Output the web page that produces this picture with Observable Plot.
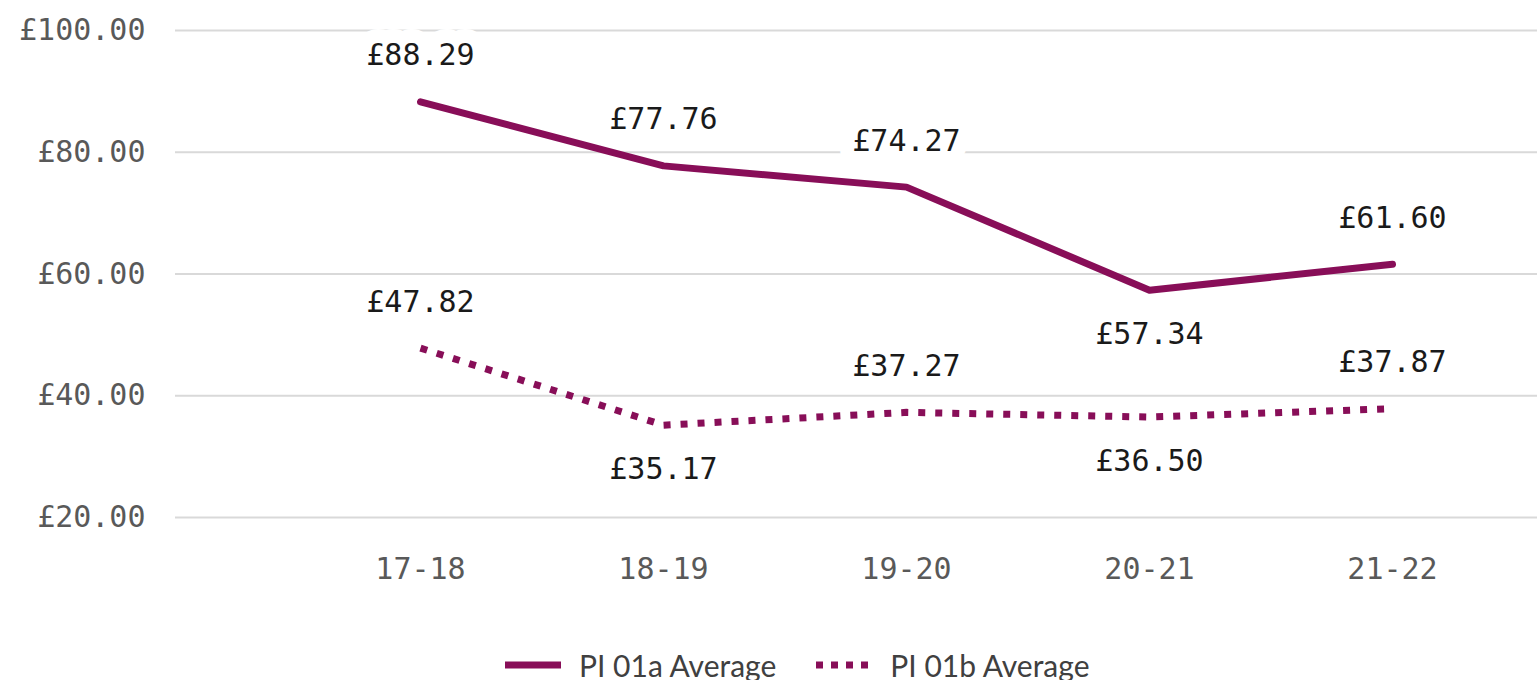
<!DOCTYPE html>
<html><head><meta charset="utf-8">
<script src="https://cdn.jsdelivr.net/npm/d3@7"></script>
<script src="https://cdn.jsdelivr.net/npm/@observablehq/plot@0.6"></script>
<style>
body{margin:0;background:#fff;width:1537px;height:680px;overflow:hidden;}
#legend{position:absolute;left:505px;top:645px;height:40px;display:flex;align-items:center;font-family:Lato,"Liberation Sans",sans-serif;font-size:30px;color:#404040;white-space:nowrap;}
.item{display:flex;align-items:center;}
.item + .item{margin-left:40px;}
.item svg{margin-right:18px;}
</style></head><body><div id="chart"></div><div id="legend"></div>
<script>
const years = ["17-18","18-19","19-20","20-21","21-22"];
const pi01a = [88.29,77.76,74.27,57.34,61.60];
const pi01b = [47.82,35.17,37.27,36.50,37.87];
const yTicks = [20,40,60,80,100];
const seriesNames = ["PI 01a Average","PI 01b Average"];
const labelSideA = ["above","above","above","below","above"];
const labelSideB = ["above","below","above","below","above"];

const color = "#880e58";
const fmt = v => "£" + v.toFixed(2);
const rowsA = years.map((y,i)=>({year:y, value:pi01a[i], series:seriesNames[0], side:labelSideA[i]}));
const rowsB = years.map((y,i)=>({year:y, value:pi01b[i], series:seriesNames[1], side:labelSideB[i]}));
const all = rowsA.concat(rowsB);
const above = all.filter(d=>d.side==="above");
const below = all.filter(d=>d.side==="below");

const labelFont = {fontSize:30, fontFamily:"'DejaVu Sans Mono', monospace"};
const chart = Plot.plot({
  width:1537, height:610,
  marginLeft:175, marginRight:0, marginTop:30, marginBottom:93,
  style:{fontFamily:"'DejaVu Sans Mono', monospace", fontSize:"30px", color:"#595959", background:"#fff"},
  x:{type:"point", domain:years, range:[418,1393], padding:0, tickSize:0, tickPadding:40, label:null},
  y:{domain:[20,100], ticks:yTicks, tickFormat:fmt, tickSize:0, tickPadding:30, label:null},
  marks:[
    Plot.ruleY(yTicks, {stroke:"#d9d9d9", strokeWidth:2}),
    Plot.text(above, {x:"year", y:"value", text:d=>fmt(d.value), dy:-46, fill:"white", stroke:"white", strokeWidth:28, strokeLinejoin:"round", ...labelFont}),
    Plot.text(below, {x:"year", y:"value", text:d=>fmt(d.value), dy:44, fill:"white", stroke:"white", strokeWidth:28, strokeLinejoin:"round", ...labelFont}),
    Plot.line(rowsA, {x:"year", y:"value", stroke:color, strokeWidth:7, strokeLinecap:"round", strokeLinejoin:"round"}),
    Plot.line(rowsB, {x:"year", y:"value", stroke:color, strokeWidth:7, strokeDasharray:"7,10", strokeLinecap:"butt"}),
    Plot.text(above, {x:"year", y:"value", text:d=>fmt(d.value), dy:-46, fill:"#1a1a1a", ...labelFont}),
    Plot.text(below, {x:"year", y:"value", text:d=>fmt(d.value), dy:44, fill:"#1a1a1a", ...labelFont})
  ]
});
document.getElementById("chart").appendChild(chart);

const legend = document.getElementById("legend");
seriesNames.forEach((name,i)=>{
  const item = document.createElement("div");
  item.className = "item";
  const dash = i===0 ? "" : ' stroke-dasharray="7,8"';
  item.innerHTML = `<svg width="56" height="12"><line x1="0" y1="6" x2="56" y2="6" stroke="${color}" stroke-width="7"${dash}/></svg><span>${name}</span>`;
  legend.appendChild(item);
});
</script></body></html>
